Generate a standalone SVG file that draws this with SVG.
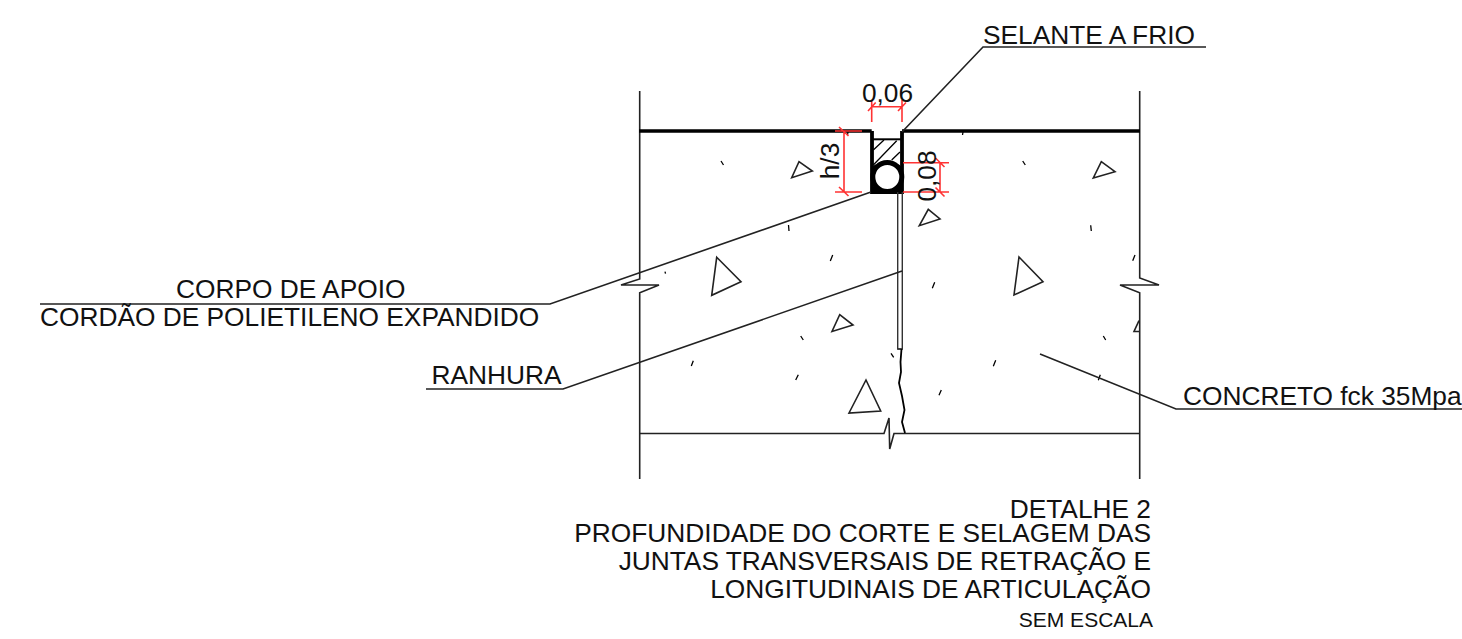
<svg xmlns="http://www.w3.org/2000/svg" width="1462" height="639" viewBox="0 0 1462 639">
<style>
text{font-family:"Liberation Sans",Arial,sans-serif;font-size:26.3px;fill:#111}
.l{fill:none;stroke:#222;stroke-width:1.6}
.t{fill:none;stroke:#222;stroke-width:1.6;stroke-linejoin:miter}
.k{fill:none;stroke:#000;stroke-width:1.3}
.r{fill:none;stroke:#f33;stroke-width:1.6}
</style>
<rect width="1462" height="639" fill="#fff"/>
<g id="concrete-section">
<path class="l" d="M639.7 91V279L621 285H659L639.7 292.7V479"/>
<path class="l" d="M1139.7 91V278L1159 285H1120L1139.7 292.7V479"/>
<path class="l" d="M640 433.5H884L889 418L889.7 449L894 433.5H1140"/>
<path d="M639 131H871.7M902 131H1140" fill="none" stroke="#000" stroke-width="3.6"/>
</g>
<g id="aggregate">
<path class="t" d="M716.7 257.3L741 281.7L711.7 295.3Z"/>
<path class="t" d="M839.7 314.7L853 325L832 331.5Z"/>
<path class="t" d="M866 380L880.7 411L849 413Z"/>
<path class="t" d="M1019 257L1043 281.7L1014 295Z"/>
<path class="t" d="M1101.3 161.7L1115 171.7L1093.3 178Z"/>
<path class="t" d="M1139 320.7L1134 331.5H1139"/>
<path class="t" d="M799 161.7L812.3 171L791.7 177.7Z"/>
<path class="t" d="M928.3 209.3L940 219L919.3 225.7Z"/>
<path class="k" d="M788.5 225L789 231M665 271.7L665.5 273.7M832.7 255L830.3 261M800.7 336L803.3 340M693.3 360.7L691.3 366M798.3 374.7L795.7 380M891 353.3L893.7 357.3M941.3 390L939 395.3M934.7 282.3L932.3 288.3M1022.7 161L1025.3 165M1090.7 225.3L1091.3 231M1135 255L1132.7 260.7M1103.3 336L1105.7 340M995.7 360.3L993.3 366.3M1100.3 374.7L1098.3 380.3M721 161L723.5 165M963 132L962.5 135M848 132L847.5 135"/>
</g>
<g id="joint">
<path d="M872 131V192H902V131" fill="none" stroke="#000" stroke-width="3.8"/>
<path d="M873 139.3H901" fill="none" stroke="#000" stroke-width="2"/>
<path d="M873.3 150L884 140M873.3 165L896.7 140.7M891.7 160L900 152" class="k"/>
<circle cx="887.3" cy="177" r="14.5" fill="#fff" stroke="#000" stroke-width="5"/>
<path d="M873 190.5L878 186M901 190.5L896 186M873.5 166L876 168.5M900.5 166L898 168.5" fill="none" stroke="#000" stroke-width="5"/>
<path d="M897.7 192V349H902.3V192" fill="none" stroke="#333" stroke-width="1.4"/>
<path d="M897.7 349H902" fill="none" stroke="#333" stroke-width="1.4"/>
<path d="M901.5 349L900.5 362L901 372L899 383L902 396L904.5 410L902 422L905 433" fill="none" stroke="#000" stroke-width="1.8"/>
</g>
<g id="connectors">
<path class="l" d="M902 132L983 47H1206"/>
<path class="l" d="M871 192L550 304H40"/>
<path class="l" d="M902 271L563 389H426"/>
<path class="l" d="M1040 354L1176 409H1462"/>
</g>
<g id="dimensions">
<path class="r" d="M871.7 100V122M902 100V122M871.7 106.7H902M868 111L875.7 102.5M898 111L906 102.5"/>
<path class="r" d="M835 131H862M835 192H862M844 131V192M839 127L848.5 136M839 187L848.5 196"/>
<path class="r" d="M903 162.7H949M903 192H949M940 162.7V192M935.5 158L944.5 167M935.5 187.5L944.5 196.5"/>
</g>
<g id="labels">
<text x="887.5" y="101.7" text-anchor="middle">0,06</text>
<text transform="translate(839 161) rotate(-90)" text-anchor="middle">h/3</text>
<text transform="translate(935.5 176) rotate(-90)" text-anchor="middle">0,08</text>
<text x="983" y="43.5">SELANTE A FRIO</text>
<text x="176" y="298">CORPO DE APOIO</text>
<text x="40" y="326">CORDÃO DE POLIETILENO EXPANDIDO</text>
<text x="431.5" y="384">RANHURA</text>
<text x="1183" y="405">CONCRETO fck 35Mpa</text>
<text x="1151" y="518" text-anchor="end">DETALHE 2</text>
<text x="1151" y="542" text-anchor="end">PROFUNDIDADE DO CORTE E SELAGEM DAS</text>
<text x="1151" y="570" text-anchor="end">JUNTAS TRANSVERSAIS DE RETRAÇÃO E</text>
<text x="1151" y="598" text-anchor="end">LONGITUDINAIS DE ARTICULAÇÃO</text>
<text x="1153" y="627" text-anchor="end" style="font-size:21px">SEM ESCALA</text>
</g>
</svg>
